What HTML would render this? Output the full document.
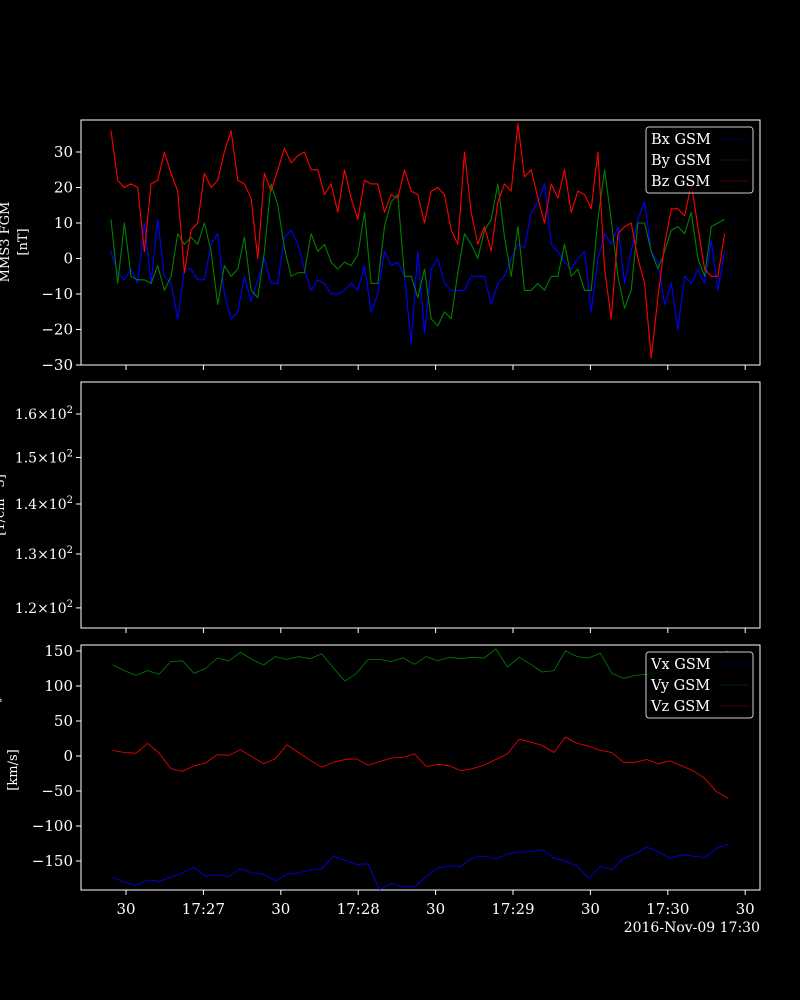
<!DOCTYPE html>
<html><head><meta charset="utf-8"><style>
html,body{margin:0;padding:0;background:#000;width:800px;height:1000px;overflow:hidden}
svg{display:block}
text{font-family:"DejaVu Serif","Liberation Serif",serif;fill:#fff}
</style></head><body>
<svg id="fig" width="800" height="1000" viewBox="0 0 800 1000" xmlns="http://www.w3.org/2000/svg"></svg>
<script>
// ---- data (time axis: seconds after 17:26:00) ----
const xTickSecs = [30, 60, 90, 120, 150, 180, 210, 240, 270];
const xTickLabels = ["30", "17:27", "30", "17:28", "30", "17:29", "30", "17:30", "30"];
const bStart = 24.2, bStep = 2.585;
const bx = [2,-4,-6,-3,-7,10,-7,11,-5,-7,-17,-3,-3,-6,-6,4,7,-10,-17,-15,-5,-12,-6,0,
 -7,-7,6,8,4,-3,-9,-6,-7,-10,-10,-9,-7,-9,-2,-15,-10,2,-2,-1,-5,-24,2,
 -21,-3,0,-7,-9,-9,-9,-5,-5,-5,-13,-7,-5,0,4,3,13,16,21,4,2,-1,-3,
 0,2,-15,0,7,4,9,-7,2,11,16,2,-1,-13,-7,-20,-5,-7,-3,-7,5,-9,2];
const by = [11,-7,10,-5,-6,-6,-7,-2,-9,-5,7,4,6,4,10,2,-13,-2,-5,-3,6,-9,-11,2,
 21,15,3,-5,-4,-4,7,2,4,-1,-3,-1,-2,1,13,-7,-7,9,16,18,-5,-5,-11,
 -3,-17,-19,-15,-17,-4,7,4,0,8,11,21,6,-5,9,-9,-9,-7,-9,-5,-5,4,-5,
 -3,-9,-9,11,25,11,-5,-14,-9,10,10,2,-3,2,8,9,7,13,0,-5,9,10,11];
const bz = [36,22,20,21,20,2,21,22,30,24,19,-4,8,10,24,20,22,30,36,22,21,17,0,24,
 19,25,31,27,29,30,25,25,18,21,13,25,17,11,22,21,21,13,18,17,25,19,18,
 10,19,20,18,8,4,30,13,4,9,2,16,21,19,38,23,25,17,10,21,17,25,13,
 19,18,14,30,-3,-17,7,9,10,0,-7,-28,-11,4,14,14,12,21,9,-3,-5,-5,7];
const bTicks = [30, 20, 10, 0, -10, -20, -30];
const densTicks = [160, 150, 140, 130, 120];
const densTickLabels = ["1.6", "1.5", "1.4", "1.3", "1.2"];
const vStart = 24.85, vStep = 4.5;
const vx = [-173,-180,-185,-177,-179,-173,-167,-159,-172,-170,-172,-161,-167,-169,-178,-169,-167,-163,-161,-143,-149,-155,-154,-191,-182,
 -187,-187,-172,-160,-157,-158,-145,-143,-147,-140,-137,-137,-134,-146,-150,-157,-175,-158,-162,-146,-140,-130,-137,-146,-141,-143,-145,-132,-126];
const vy = [130,122,115,122,117,135,136,118,125,140,136,148,138,130,142,138,142,139,146,126,107,118,138,138,135,
 140,131,142,136,141,139,141,140,153,127,141,131,120,122,150,142,140,147,118,111,115,117,120,122,125,128,135,145,150];
const vz = [8,5,4,18,4,-18,-22,-14,-10,2,1,9,-1,-11,-4,16,5,-6,-16,-9,-5,-4,-13,-8,-3,
 -2,3,-15,-12,-14,-21,-18,-13,-5,3,24,20,15,5,27,18,14,8,5,-9,-9,-5,-11,-7,-14,-21,-32,-51,-60];
const vTicks = [150, 100, 50, 0, -50, -100, -150];

// ---- drawing ----
const NS = "http://www.w3.org/2000/svg";
const svg = document.getElementById("fig");
function el(tag, attrs, parent, txt) {
  const e = document.createElementNS(NS, tag);
  for (const k in attrs) e.setAttribute(k, attrs[k]);
  if (txt !== undefined) e.textContent = txt;
  (parent || svg).appendChild(e);
  return e;
}
const L = 81, R = 760;
const xs = s => 126 + (s - 30) * (77.4 / 30);
const yB = v => 258.5 - v * 3.55;
const yD = v => 414 + (Math.log(160) - Math.log(v)) * 674;
const yV = v => 756 - v * 0.7;

function panel(name, top, bottom, showLabels) {
  const g = el("g", {});
  
  
  const fr = el("rect", {x: L, y: top, width: R - L, height: bottom - top, fill: "#000", stroke: "#fff", "stroke-width": 1}, g);
  
  
  xTickSecs.forEach((s, i) => {
    const t = el("line", {x1: xs(s), x2: xs(s), y1: bottom, y2: bottom + 5, stroke: "#fff", "stroke-width": 1}, g);
    
    
    if (showLabels) {
      const lb = el("text", {x: xs(s), y: bottom + 24, "text-anchor": "middle", "font-size": 15}, g, xTickLabels[i]);
      
      
    }
  });
  return g;
}
function yTick(g, y, label, size) {
  const t = el("line", {x1: L - 5, x2: L, y1: y, y2: y, stroke: "#fff", "stroke-width": 1}, g);
  
  
  const lb = el("text", {x: L - 8, y: y + 5, "text-anchor": "end", "font-size": size || 15}, g, label);
  
  
  return lb;
}
function series(g, arr, start, step, yf, color, name, w) {
  const pts = arr.map((v, i) => xs(start + i * step).toFixed(1) + "," + yf(v).toFixed(1)).join(" ");
  const p = el("polyline", {points: pts, fill: "none", stroke: color, "stroke-width": w || 1, "stroke-linejoin": "round"}, g);
  
  
}
function legend(g, x, y, labels, colors, name) {
  const lg = el("g", {}, g);
  
  
  el("rect", {x: x, y: y, width: 107, height: 66, rx: 3, fill: "#000", "fill-opacity": 0.8, stroke: "#ccc", "stroke-width": 1}, lg);
  labels.forEach((lbl, i) => {
    const ey = y + 17 + i * 21;
    const t = el("text", {x: x + 5, y: ey, "font-size": 14.5}, lg, lbl);
    
    
    el("line", {x1: x + 74, x2: x + 103, y1: ey - 5, y2: ey - 5, stroke: colors[i], "stroke-width": 0.6, "stroke-opacity": 0.6}, lg);
  });
}

// Panel 1: B field
const g1 = panel("b-field-panel", 120, 365, false);
bTicks.forEach(v => yTick(g1, yB(v), v < 0 ? "\u2212" + Math.abs(v) : String(v)));
const cp1 = el("clipPath", {id: "c1"}, g1);
el("rect", {x: L, y: 120, width: R - L, height: 245}, cp1);
const s1 = el("g", {"clip-path": "url(#c1)"}, g1);
series(s1, bx, bStart, bStep, yB, "#0000ff", "bx-line", 1.1);
series(s1, by, bStart, bStep, yB, "#008000", "by-line", 1.1);
series(s1, bz, bStart, bStep, yB, "#ff0000", "bz-line", 1.1);
legend(g1, 646, 127, ["Bx GSM", "By GSM", "Bz GSM"], ["#0000ff", "#008000", "#ff0000"], "b-legend");
const yl1 = el("text", {transform: "translate(9,242) rotate(-90)", "text-anchor": "middle", "font-size": 13}, g1, "MMS3 FGM");


const yl1b = el("text", {transform: "translate(27,242) rotate(-90)", "text-anchor": "middle", "font-size": 13}, g1, "[nT]");



// Panel 2: density (empty, log)
const g2 = panel("density-panel", 382, 628, false);
densTicks.forEach((v, i) => {
  const lb = yTick(g2, yD(v), "", 14);
  lb.textContent = densTickLabels[i] + "\u00d710";
  el("tspan", {dy: -6, "font-size": 10}, lb, "2");
});
const yl2 = el("text", {transform: "translate(4,505) rotate(-90)", "text-anchor": "middle", "font-size": 13}, g2, "[1/cm^3]");



// Panel 3: velocity
const g3 = panel("velocity-panel", 645, 890, true);
vTicks.forEach(v => yTick(g3, yV(v), v < 0 ? "\u2212" + Math.abs(v) : String(v)));
const cp3 = el("clipPath", {id: "c3"}, g3);
el("rect", {x: L, y: 645, width: R - L, height: 245}, cp3);
const s3 = el("g", {"clip-path": "url(#c3)"}, g3);
series(s3, vx, vStart, vStep, yV, "#0000ff", "vx-line", 0.8);
series(s3, vy, vStart, vStep, yV, "#008000", "vy-line", 0.8);
series(s3, vz, vStart, vStep, yV, "#ff0000", "vz-line", 0.8);
legend(g3, 646, 652, ["Vx GSM", "Vy GSM", "Vz GSM"], ["#0000ff", "#008000", "#ff0000"], "v-legend");
const yl3 = el("text", {transform: "translate(17,770) rotate(-90)", "text-anchor": "middle", "font-size": 13}, g3, "[km/s]");


const yl3b = el("text", {transform: "translate(-1,770) rotate(-90)", "text-anchor": "middle", "font-size": 13}, g3, "MMS3 FPI ion velocity");



const dt = el("text", {x: 760, y: 932, "text-anchor": "end", "font-size": 14}, svg, "2016-Nov-09 17:30");


</script>
</body></html>
